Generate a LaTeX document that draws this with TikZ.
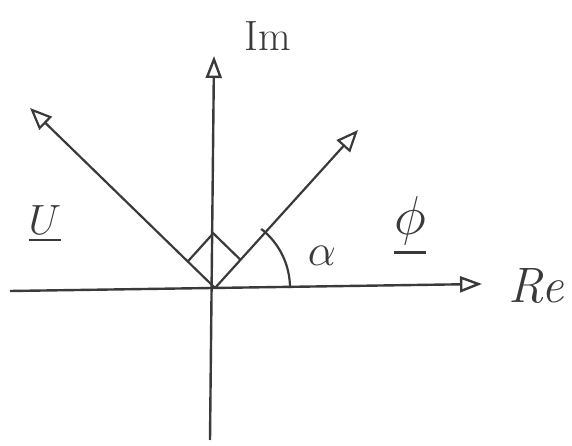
\documentclass[tikz,border=0pt]{standalone}
\usepackage{amsmath,amssymb}
\usepackage{graphicx}
\usepackage{xcolor}
\usepackage{tikz}
\usetikzlibrary{calc,arrows.meta,positioning}
\definecolor{pencil}{HTML}{3A3A3A}
\tikzset{
  ax/.style={-{Triangle[open,length=22pt,width=16pt]},line width=2.4pt,pencil},
  vec/.style={-{Triangle[open,length=22pt,width=18pt]},line width=2.2pt,pencil},
  lab/.style={text=pencil,inner sep=0pt,font=\Huge}
}

\begin{document}
\begin{tikzpicture}[x=1pt,y=1pt]
\useasboundingbox (0,0) rectangle (572,446);
\coordinate (O) at (215,158);
\coordinate (xl) at (10,155);
\coordinate (xr) at (482,162);
\coordinate (yb) at (210,6);
\coordinate (yt) at (214,390);
\coordinate (L) at (30,338);
\coordinate (R) at (358,316);
% axes
\draw[ax] (xl)--(xr);
\draw[ax] (yb)--(yt);
% vectors
\draw[vec] (O)--(L);
\draw[vec] (O)--(R);
% right angle
\coordinate (pl) at ($(O)!38pt!(L)$);
\coordinate (pr) at ($(O)!38pt!(R)$);
\draw[line width=2.2pt,pencil] (pl)--($(pl)+(pr)-(O)$)--(pr);
% alpha
\draw[line width=2.2pt,pencil] (O) ++(0:75) arc[start angle=0,end angle=52,radius=75];
\node[lab] (im) at (268,410) {\scalebox{1.7}{Im}};
\node[lab] (re) at (536,160) {\scalebox{2}{\itshape Re}};
\node[lab] (u) at (45,222) {\scalebox{1.7}{$\underline{U}$}};
\node[lab] (phi) at (410,220) {\scalebox{2.2}{$\underline{\phi}$}};
\node[lab] (al) at (322,190) {\scalebox{1.8}{$\alpha$}};
\end{tikzpicture}
\end{document}
